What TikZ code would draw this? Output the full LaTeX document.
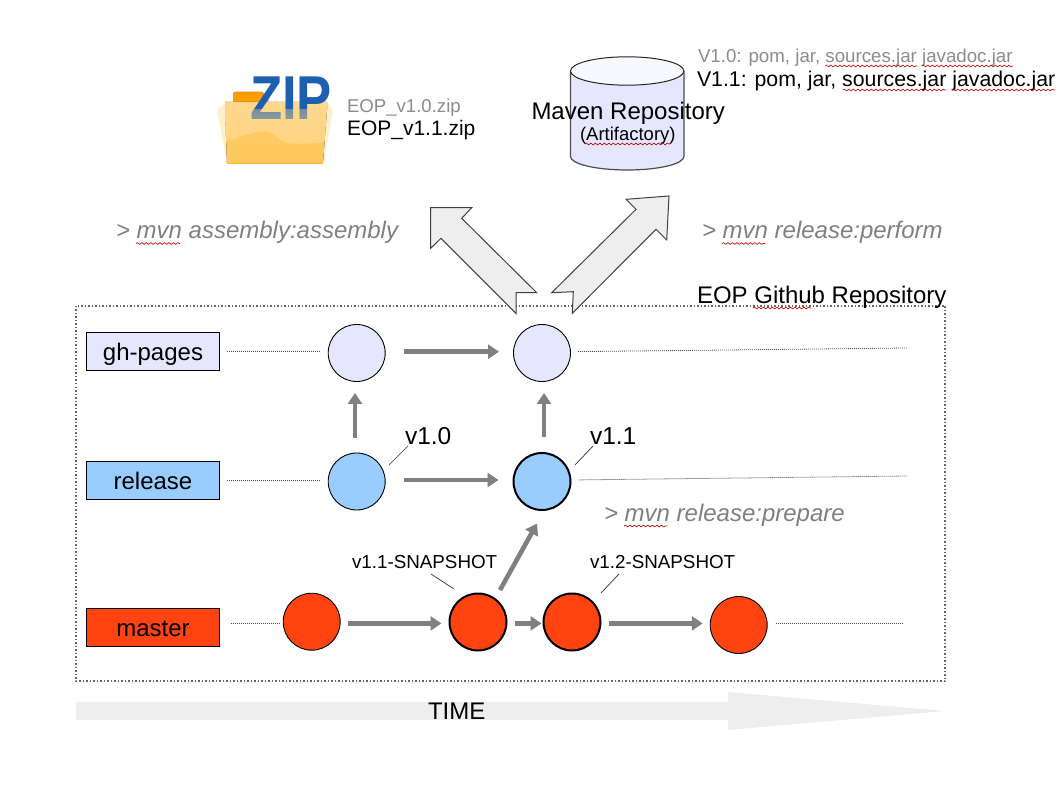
\documentclass[tikz,border=0pt]{standalone}
\usepackage{fontspec}
\setmainfont{Liberation Sans}
\usetikzlibrary{arrows.meta,calc,decorations.pathmorphing,fadings}
\definecolor{lav}{HTML}{E6E6FF}
\definecolor{sky}{HTML}{99CCFF}
\definecolor{fire}{HTML}{FF4411}
\definecolor{arrowgrey}{HTML}{808080}
\definecolor{panel}{HTML}{EEEEEE}
\definecolor{zipblue}{HTML}{1F5FAF}
\newcommand{\fsz}[1]{\fontsize{#1}{#1}\selectfont}
\begin{tikzfadingfrompicture}[name=zipfade]
\fill[transparent!0] (-60pt,0pt) rectangle (60pt,40pt);
\shade[top color=transparent!40,bottom color=transparent!65] (-60pt,-24pt) rectangle (60pt,0pt);
\end{tikzfadingfrompicture}
\tikzset{
  x=1pt,y=-1pt,
  branch/.style={draw=black,line width=.9pt,minimum width=132.5pt,minimum height=38pt,inner sep=0pt,text height=18.6pt,text depth=0pt,font=\fsz{24}},
  commit/.style={circle,draw=black,line width=.9pt,minimum size=57pt,inner sep=0pt},
  headcommit/.style={commit,line width=2pt},
  flow/.style={draw=arrowgrey,line width=4.6pt,-{Triangle[length=11pt,width=14pt]}},
  track/.style={draw=black!70,line width=.8pt,dash pattern=on 1pt off 1pt},
  leader/.style={draw=black!80,line width=.7pt},
  label/.style={anchor=base west,inner sep=0pt,outer sep=0pt},
  cmd/.style={label,text=arrowgrey,font=\itshape\fsz{24}},
  squiggle/.style={draw=red!75!black,line width=.6pt,decorate,decoration={snake,amplitude=.9pt,segment length=4.5pt}},
  bigarrow/.style={draw=black!75,line width=1pt,fill=panel,line join=miter},
}
\begin{document}
\begin{tikzpicture}
\useasboundingbox (0,0) rectangle (1058,794);
% ZIP folder
\fill[top color=orange!80!yellow,bottom color=orange!70!yellow] (233,94) -- (235,92) -- (262,92) -- (268,99) -- (268,104) -- (233,104) -- cycle;
\fill[fill={rgb,255:red,255;green,240;blue,205}] (217,110) -- (225,103) -- (227,163) -- cycle;
\fill[fill={rgb,255:red,255;green,240;blue,205}] (333,110) -- (327,103) -- (324,163) -- cycle;
\fill[top color={rgb,255:red,255;green,205;blue,110},bottom color={rgb,255:red,255;green,200;blue,90}] (225,102) -- (327,102) -- (327,110) -- (323,163) -- (227,163) -- (225,110) -- cycle;
\fill[white,fill opacity=.22] (225,102) -- (327,102) -- (327,142) .. controls (300,144) and (285,146) .. (277,137) .. controls (265,125) and (250,135) .. (226,141) -- cycle;
\draw[orange!70!yellow!80,line width=.5pt] (227,163) -- (323,163);
\begin{scope}[transparency group]
\path[scope fading=zipfade,fit fading=false,fading transform={shift={(291,102)}}] (291,102);
\node[inner sep=0pt,anchor=base,font=\bfseries\fsz{62},text=zipblue,xscale=.85] (ziptext) at (291,120) {ZIP};
\end{scope}
\node[label,text=black!45,font=\fsz{18.6}] (zip10) at (347,113) {EOP\_v1.0.zip};
\node[label,font=\fsz{21}] (zip11) at (347,136) {EOP\_v1.1.zip};
% Maven cylinder
\path[fill=lav,draw=black!70,line width=1.2pt] (570.5,71) -- (570.5,156.5) arc[start angle=180,end angle=360,x radius=56.7,y radius=-13.5] -- (683.9,71);
\draw[fill=lav!30,draw=black!85,line width=1pt] (627.2,71) ellipse[x radius=56.7,y radius=14.2];
\node[label,font=\fsz{24}] (maven) at (531.5,119.5) {Maven Repository};
\node[label,font=\fsz{18.5}] (artifactory) at (580,141) {(Artifactory)};
\node[label,text=black!45,font=\fsz{18.7}] (v10files) at (698,63) {V1.0: pom, jar, sources.jar javadoc.jar};
\node[label,font=\fsz{21.3}] (v11files) at (697,87) {V1.1: pom, jar, sources.jar javadoc.jar};
\draw[squiggle] (585,144) -- (670,144);
\draw[squiggle] (825,66) -- (917,66);
\draw[squiggle] (922,66) -- (1013,66);
\draw[squiggle] (843,90) -- (946,90);
\draw[squiggle] (952,90) -- (1055,90);
% Commands
\node[cmd] (asm) at (116,239) {> mvn assembly:assembly};
\node[cmd] (perf) at (702,239) {> mvn release:perform};
\node[cmd] (prep) at (604,521) {> mvn release:prepare};
\draw[squiggle] (136,243.5) -- (180,243.5);
\draw[squiggle] (722,243.5) -- (765,243.5);
\draw[squiggle] (624,526) -- (667,526);
% Repository frame
\draw[draw=black!60,line width=1.2pt,dash pattern=on 1.5pt off 2pt] (76,306) rectangle (945,681);
\node[label,font=\fsz{24}] (repo) at (697,304) {EOP Github Repository};
\draw[squiggle] (753,308) -- (811,308);
% Big arrows
\path[bigarrow] (430.7,207.7) -- (471.7,207.7) -- (461.7,218.3) -- (536.7,292.7) -- (516,292.7) -- (516,313.3) -- (441,238.3) -- (430.7,248.3) -- cycle;
\path[bigarrow] (669,196) -- (626,199.3) -- (636,209.3) -- (551.7,292.7) -- (573.3,291.7) -- (572.3,313.3) -- (656,229.3) -- (666.7,240) -- cycle;
% Branch boxes
\node[branch,fill=lav] (gh) at (153,351.7) {gh-pages};
\node[branch,fill=sky] (rel) at (153,480) {release};
\node[branch,fill=fire] (mas) at (153,627.3) {master};
% Commits
\node[commit,fill=lav] (g1) at (356.7,353) {};
\node[commit,fill=lav] (g2) at (542,353) {};
\node[commit,fill=sky] (r1) at (356.7,481.5) {};
\node[headcommit,fill=sky] (r2) at (542,481.5) {};
\node[commit,fill=fire] (m1) at (311.7,621.7) {};
\node[headcommit,fill=fire] (m2) at (478,622) {};
\node[headcommit,fill=fire] (m3) at (572,622) {};
\node[commit,fill=fire] (m4) at (738.7,625) {};
% Tracks
\coordinate (gend) at (907,348);
\coordinate (rend) at (907,476);
\coordinate (mend) at (903,623.4);
\draw[track,shorten <=7.5pt,shorten >=7pt] (gh.east) -- (gh.east -| g1.west);
\draw[track,shorten <=7.5pt,shorten >=7pt] (rel.east) -- (rel.east -| r1.west);
\draw[track,shorten <=11pt,shorten >=4pt] (mas.east |- mend) -- (m1.west |- mend);
\draw[track,shorten <=7pt] (g2.east |- gh.east) -- (gend);
\draw[track,shorten <=7pt] (r2.east |- rel.east) -- (rend);
\draw[track,shorten <=8pt] (m4.east |- mend) -- (mend);
% Flows
\draw[flow,shorten <=18pt,shorten >=14pt] (g1.east |- gh.east) -- (g2.west |- gh.east);
\draw[flow,shorten <=18pt,shorten >=14pt] (r1.east |- rel.east) -- (r2.west |- rel.east);
\draw[flow,shorten <=7pt,shorten >=7pt] (m1.east |- mend) -- (m2.west |- mend);
\draw[flow,shorten <=7pt,shorten >=1pt] (m2.east |- mend) -- (m3.west |- mend);
\draw[flow,shorten <=7pt,shorten >=7pt] (m3.east |- mend) -- (m4.west |- mend);
\draw[flow,shorten <=15pt,shorten >=11pt] ([xshift=-1.7pt]r1.north) -- ([xshift=-1.7pt]g1.south);
\draw[flow,shorten <=15pt,shorten >=11pt] ([xshift=2pt]r2.north) -- ([xshift=2pt]g2.south);
\draw[flow] ($(m2)+(22,-32)$) -- ($(r2)+(-5,42)$);
% Version labels
\node[label,font=\fsz{24.5}] (v10) at (405,444) {v1.0};
\node[label,font=\fsz{24.5}] (v11) at (590,444) {v1.1};
\node[label,font=\fsz{18.8}] (s11) at (352,568) {v1.1-SNAPSHOT};
\node[label,font=\fsz{18.8}] (s12) at (590,568) {v1.2-SNAPSHOT};
\coordinate (a1) at (389,465); \coordinate (a2) at (408,446);
\coordinate (b1) at (575,465); \coordinate (b2) at (593,446);
\coordinate (c1) at (431,574); \coordinate (c2) at (454,589);
\coordinate (d1) at (601,593); \coordinate (d2) at (619,574);
\draw[leader] (a1) -- (a2);
\draw[leader] (b1) -- (b2);
\draw[leader] (c1) -- (c2);
\draw[leader] (d1) -- (d2);
% Time arrow
\fill[panel] (76,702) -- (728,702) -- (728,692) -- (945,711) -- (728,730) -- (728,720) -- (76,720) -- cycle;
\node[label,font=\fsz{24}] (time) at (428,719) {TIME};
\end{tikzpicture}
\end{document}
